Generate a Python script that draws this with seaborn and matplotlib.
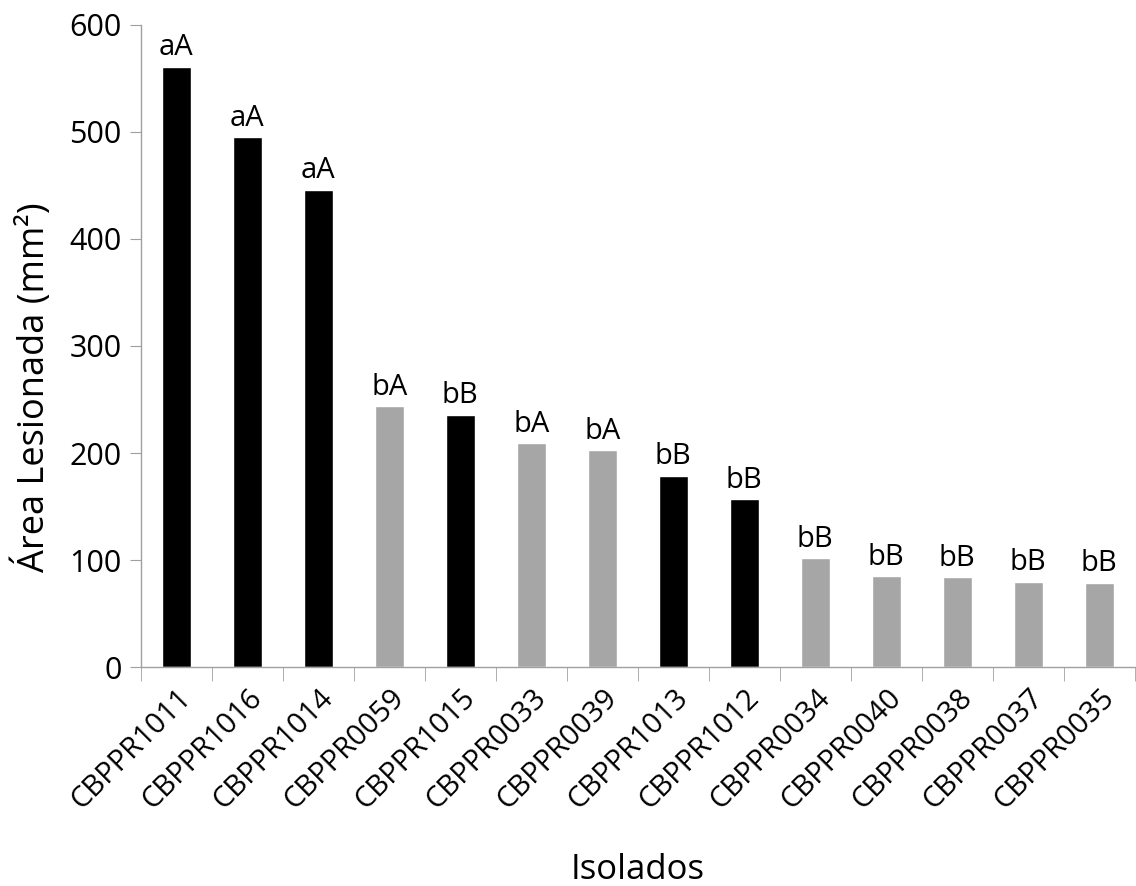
import pandas as pd
import seaborn as sns
import matplotlib.pyplot as plt

# values
isolados = ["CBPPR1011", "CBPPR1016", "CBPPR1014", "CBPPR0059", "CBPPR1015",
            "CBPPR0033", "CBPPR0039", "CBPPR1013", "CBPPR1012", "CBPPR0034",
            "CBPPR0040", "CBPPR0038", "CBPPR0037", "CBPPR0035"]
area = [561, 495, 446, 244, 236, 209, 203, 179, 157, 102, 85, 84, 80, 79]
letras = ["aA", "aA", "aA", "bA", "bB", "bA", "bA", "bB", "bB",
          "bB", "bB", "bB", "bB", "bB"]
grupo = ["1", "1", "1", "0", "1", "0", "0", "1", "1", "0", "0", "0", "0", "0"]

df = pd.DataFrame({"Isolados": isolados, "Area": area, "grupo": grupo})

sns.set_style("white")
plt.rcParams['font.family'] = ['Open Sans', 'DejaVu Sans']
plt.rcParams['text.color'] = 'black'
plt.rcParams['axes.labelcolor'] = 'black'
plt.rcParams['xtick.labelcolor'] = 'black'
plt.rcParams['ytick.labelcolor'] = 'black'

fig = plt.figure(figsize=(11.36, 8.86), dpi=100)
ax = fig.add_axes([0.124, 0.247, 0.875, 0.725])

sns.barplot(data=df, x="Isolados", y="Area", hue="grupo",
            palette={"1": "black", "0": "#a6a6a6"}, width=0.4,
            dodge=False, legend=False, ax=ax)

for i, (v, t) in enumerate(zip(area, letras)):
    ax.text(i, v + 4, t, ha="center", va="bottom", fontsize=21)

ax.set_ylim(0, 600)
ax.set_xlim(-0.5, len(isolados) - 0.5)
ax.set_yticks(range(0, 601, 100))
ax.set_xticks(range(len(isolados)))
ax.set_xticklabels(isolados, rotation=45, ha="right", rotation_mode="anchor",
                   fontsize=21)
ax.tick_params(axis="y", labelsize=22, length=8, color="#a0a0a0", left=True,
               direction="out", pad=6)
ax.tick_params(axis="x", length=0, pad=12)
# category boundary ticks on the x axis
ax.set_xticks([i - 0.5 for i in range(len(isolados) + 1)], minor=True)
ax.tick_params(axis="x", which="minor", length=10, color="#a0a0a0",
               direction="out", bottom=True)

for s in ["top", "right"]:
    ax.spines[s].set_visible(False)
for s in ["left", "bottom"]:
    ax.spines[s].set_color("#a0a0a0")
    ax.spines[s].set_linewidth(1)

ax.set_ylabel("Área Lesionada (mm²)", fontsize=26)
ax.yaxis.set_label_coords(-0.088, 0.436)
ax.set_xlabel("Isolados", fontsize=25)
ax.xaxis.set_label_coords(0.5, -0.29)

fig.savefig("out.png", dpi=100)
